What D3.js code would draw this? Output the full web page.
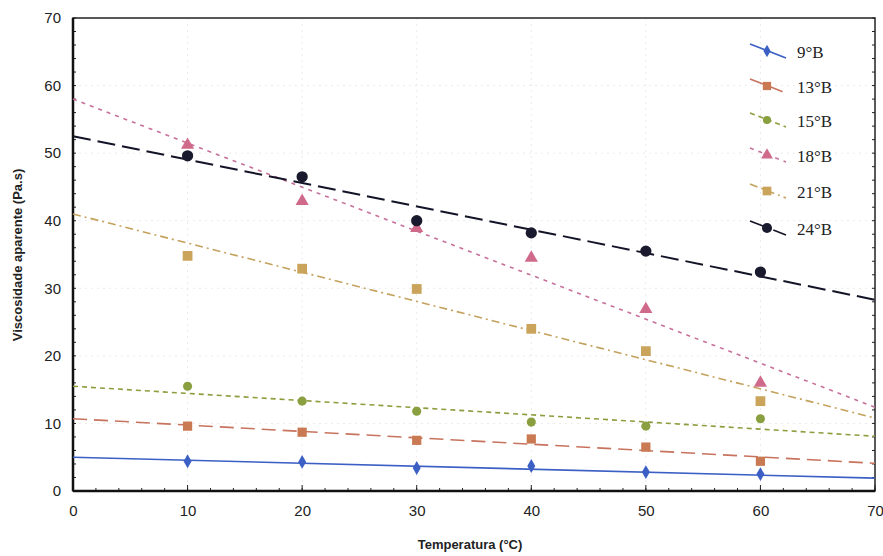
<!DOCTYPE html>
<html><head><meta charset="utf-8">
<script src="https://cdn.jsdelivr.net/npm/d3@7"></script>
<style>body{margin:0;background:#fff}</style>
</head><body><svg id="c" width="883" height="556"></svg>
<script>
const temps = [10, 20, 30, 40, 50, 60];
const seriesNames = ["9°B", "13°B", "15°B", "18°B", "21°B", "24°B"];
const v9  = [4.4, 4.3, 3.4, 3.7, 2.8, 2.5];
const v13 = [9.6, 8.7, 7.5, 7.7, 6.5, 4.4];
const v15 = [15.5, 13.3, 11.8, 10.2, 9.6, 10.7];
const v18 = [51.2, 42.9, 38.9, 34.5, 26.9, 16.0];
const v21 = [34.8, 32.9, 29.9, 24.0, 20.7, 13.3];
const v24 = [49.6, 46.5, 40.0, 38.2, 35.5, 32.4];
// trend lines: value at T=0 and T=70
const trendX = [0, 70];
const trend0 = [5.0, 10.7, 15.5, 58.0, 41.0, 52.5];
const trend70 = [1.9, 4.1, 8.1, 12.4, 10.8, 28.3];
const xTicks = [0, 10, 20, 30, 40, 50, 60, 70];
const yTicks = [0, 10, 20, 30, 40, 50, 60, 70];

const values = [v9, v13, v15, v18, v21, v24];
const colors = ["#3b5fc4", "#c8735e", "#8f9b3c", "#c8709a", "#c4a25e", "#141428"];
const markerColors = ["#3b5fc4", "#c97a52", "#8aa040", "#d06a8a", "#c9a45a", "#1a1a2e"];
const dashes = [null, "14,7", "5,4", "4,5", "8,4,2,4", "18,7"];
const shapes = [d3.symbolDiamond, d3.symbolSquare, d3.symbolCircle, d3.symbolTriangle, d3.symbolSquare, d3.symbolCircle];
const sizes = [55, 85, 65, 75, 95, 100];

const svg = d3.select("#c");
const L = 73, R = 875, T = 18, B = 491;
const x = d3.scaleLinear().domain([0, 70]).range([L, R]);
const y = d3.scaleLinear().domain([0, 70]).range([B, T]);

// gridlines
const g = svg.append("g");
g.selectAll(".gx").data(xTicks.slice(1, -1)).enter().append("line")
  .attr("x1", d => x(d)).attr("x2", d => x(d)).attr("y1", T).attr("y2", B)
  .attr("stroke", "#ebebeb").attr("stroke-dasharray", "2,4");
g.selectAll(".gy").data(yTicks.slice(1, -1)).enter().append("line")
  .attr("y1", d => y(d)).attr("y2", d => y(d)).attr("x1", L).attr("x2", R)
  .attr("stroke", "#ebebeb").attr("stroke-dasharray", "2,4");

// axes
const xAx = d3.axisBottom(x).tickValues(xTicks).tickSize(0).tickPadding(12);
const yAx = d3.axisLeft(y).tickValues(yTicks).tickSize(0).tickPadding(12);
const gx = svg.append("g").attr("transform", `translate(0,${B})`).call(xAx);
const gy = svg.append("g").attr("transform", `translate(${L},0)`).call(yAx);
[gx, gy].forEach(a => {
  a.select(".domain").remove();
  a.selectAll("text").attr("font-family", "Liberation Sans, Arial, sans-serif")
    .attr("font-size", 15).attr("fill", "#222");
});
gx.selectAll("text").attr("dy", "0.85em");

// minor ticks (inward)
const minor = d3.range(0, 71, 2);
svg.append("g").selectAll("line").data(minor).enter().append("line")
  .attr("x1", d => x(d)).attr("x2", d => x(d)).attr("y1", B).attr("y2", B - 3).attr("stroke", "#222");
svg.append("g").selectAll("line").data(minor).enter().append("line")
  .attr("y1", d => y(d)).attr("y2", d => y(d)).attr("x1", L).attr("x2", L + 3).attr("stroke", "#222");
svg.append("g").selectAll("line").data(minor).enter().append("line")
  .attr("y1", d => y(d)).attr("y2", d => y(d)).attr("x1", R).attr("x2", R - 3).attr("stroke", "#222");
svg.append("g").selectAll("line").data(xTicks).enter().append("line")
  .attr("x1", d => x(d)).attr("x2", d => x(d)).attr("y1", B).attr("y2", B - 6).attr("stroke", "#222");

// frame
svg.append("rect").attr("x", L).attr("y", T).attr("width", R - L).attr("height", B - T)
  .attr("fill", "none").attr("stroke", "#222").attr("stroke-width", 1.5);
svg.append("line").attr("x1", L).attr("x2", L).attr("y1", T).attr("y2", B).attr("stroke", "#111").attr("stroke-width", 2.5);
svg.append("line").attr("x1", L).attr("x2", R).attr("y1", B).attr("y2", B).attr("stroke", "#111").attr("stroke-width", 2.5);

// trend lines
const line = d3.line().x(d => x(d[0])).y(d => y(d[1]));
values.forEach((vals, i) => {
  svg.append("path").datum([[trendX[0], trend0[i]], [trendX[1], trend70[i]]])
    .attr("d", line).attr("fill", "none").attr("stroke", colors[i])
    .attr("stroke-width", i === 5 ? 2 : 1.6)
    .attr("stroke-dasharray", dashes[i]);
});
// markers
values.forEach((vals, i) => {
  svg.append("g").selectAll("path").data(vals).enter().append("path")
    .attr("d", d3.symbol().type(shapes[i]).size(sizes[i]))
    .attr("transform", (d, j) => `translate(${x(temps[j])},${y(d)})`)
    .attr("fill", markerColors[i]);
});

// legend
const lg = svg.append("g");
const rowsY = [52, 87, 121, 156, 192, 229];
seriesNames.forEach((n, i) => {
  const ry = rowsY[i];
  lg.append("line").attr("x1", 750).attr("x2", 786).attr("y1", ry - 8).attr("y2", ry + 6)
    .attr("stroke", colors[i]).attr("stroke-width", 1.6).attr("stroke-dasharray", dashes[i]);
  lg.append("path").attr("d", d3.symbol().type(shapes[i]).size(sizes[i] * 0.8))
    .attr("transform", `translate(767,${ry - 1})`).attr("fill", markerColors[i]);
  lg.append("text").attr("x", 797).attr("y", ry + 6).text(n)
    .attr("font-family", "Liberation Serif, Times New Roman, serif").attr("font-size", 17).attr("fill", "#222");
});

// axis titles
svg.append("text").attr("x", 470).attr("y", 549).attr("text-anchor", "middle")
  .attr("font-family", "Liberation Sans, Arial, sans-serif").attr("font-size", 13).attr("fill", "#222")
  .attr("font-weight", "bold")
  .text("Temperatura (°C)");
svg.append("text").attr("transform", "translate(22,255) rotate(-90)").attr("text-anchor", "middle")
  .attr("font-family", "Liberation Sans, Arial, sans-serif").attr("font-size", 13).attr("fill", "#222")
  .attr("font-weight", "bold")
  .text("Viscosidade aparente (Pa.s)");
</script></body></html>
